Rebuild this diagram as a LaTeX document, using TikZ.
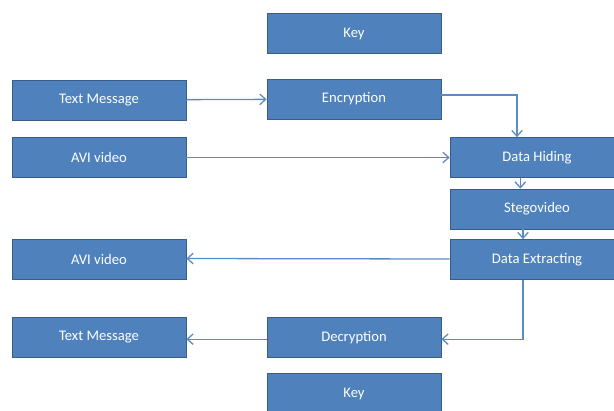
\documentclass[tikz,border=0pt]{standalone}
\usepackage{fontspec}
\setmainfont{Carlito}
\usepackage{tikz}
\usetikzlibrary{positioning,arrows.meta}
\definecolor{boxblue}{HTML}{4F81BD}
\definecolor{boxedge}{HTML}{385D8A}
\definecolor{linkblue}{HTML}{5B8BC6}

\begin{document}
\begin{tikzpicture}[x=0.03cm,y=-0.03cm,
    blk/.style={draw=boxedge,fill=boxblue,line width=0.6pt,text=white,
      minimum width=5.22cm,minimum height=1.2cm,inner sep=0pt,
      font=\fontsize{12.5}{14}\selectfont},
    link/.style={draw=linkblue,line width=1.1pt,-{Straight Barb[length=5pt,width=9pt]}}]
      \useasboundingbox (0,0) rectangle (614,410);
      % sender side
      \node[blk](keyA) at (354,33.5){Key};
      \node[blk](msgA) at (99,100){Text Message};
      \node[blk](enc) at (354,99){Encryption};
      \node[blk](aviA) at (99,157.5){AVI video};
      \node[blk](hide) at (537,157.5){Data Hiding};
      \node[blk](steg) at (537,209){Stegovideo};
      \node[blk](ext) at (537,259.5){Data Extracting};
      % receiver side
      \node[blk](aviB) at (99,259){AVI video};
      \node[blk](msgB) at (99,337.5){Text Message};
      \node[blk](dec) at (354,337.5){Decryption};
      \node[blk](keyB) at (354,393.5){Key};

      \draw[link] (msgA) -- (enc);
      \draw[link] ([yshift=0.12cm]enc.east) -| ([xshift=-0.6cm]hide.north);
      \draw[link] (aviA) -- (hide);
      \draw[link] ([xshift=-0.5cm]hide.south) -- ([xshift=-0.5cm]steg.north);
      \draw[link] ([xshift=-0.42cm]steg.south) -- ([xshift=-0.42cm]ext.north);
      \draw[link] ([yshift=0.015cm]ext.west) -- ([yshift=0.015cm]aviB.east);
      \draw[link] ([xshift=-0.42cm]ext.south) |- ([yshift=-0.05cm]dec.east);
      \draw[link] ([yshift=-0.05cm]dec.west) -- ([yshift=-0.05cm]msgB.east);
\end{tikzpicture}
\end{document}
